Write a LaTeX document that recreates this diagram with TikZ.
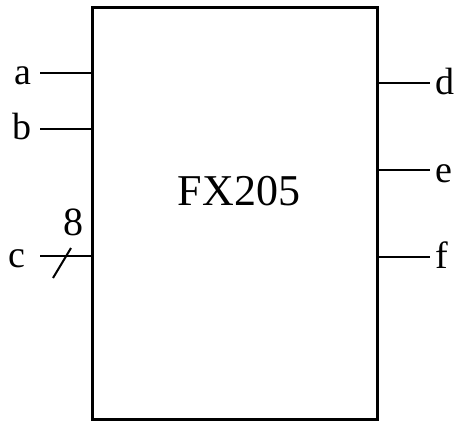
\documentclass[tikz,border=0pt]{standalone}
\usepackage{fontspec}
\setmainfont{Liberation Serif}
\usetikzlibrary{positioning,calc}

\begin{document}
\begin{tikzpicture}[x=0.5pt,y=-0.5pt,
        chip/.style={draw,line width=1.5pt,inner sep=0pt,
                     minimum width=142.5pt,minimum height=205.5pt},
        pin/.style={line width=1pt},
        lbl/.style={font=\fontsize{19}{22}\selectfont,inner sep=0pt}]
  \useasboundingbox (0,0) rectangle (458,422);
  % the block
  \node[chip] (fx) at (234.5,213.5) {};
  \node[font=\fontsize{22}{26}\selectfont,inner sep=0pt,anchor=base]
    (name) at (239,205) {FX205};
  % inputs
  \coordinate (a-pin) at (40,73);
  \coordinate (b-pin) at (40,129);
  \coordinate (c-pin) at (40,256);
  \draw[pin] (a-pin) -- (a-pin -| fx.west);
  \draw[pin] (b-pin) -- (b-pin -| fx.west);
  \draw[pin] (c-pin) -- (c-pin -| fx.west);
  \node[lbl,anchor=base east] (a) at ($(a-pin)+(-8,12)$) {a};
  \node[lbl,anchor=base east] (b) at ($(b-pin)+(-8,11)$) {b};
  \node[lbl,anchor=base east] (c) at ($(c-pin)+(-14,11)$) {c};
  % bus width
  \coordinate (bus-lo) at (53,278);
  \coordinate (bus-hi) at (71,248);
  \draw[pin] (bus-lo) -- (bus-hi);
  \node[lbl,font=\fontsize{20}{22}\selectfont,anchor=base] (width) at (73,235) {8};
  % outputs
  \coordinate (d-pin) at (430,83);
  \coordinate (e-pin) at (430,170);
  \coordinate (f-pin) at (430,257);
  \draw[pin] (d-pin -| fx.east) -- (d-pin);
  \draw[pin] (e-pin -| fx.east) -- (e-pin);
  \draw[pin] (f-pin -| fx.east) -- (f-pin);
  \node[lbl,anchor=base west] (d) at ($(d-pin)+(5,12)$) {d};
  \node[lbl,anchor=base west] (e) at ($(e-pin)+(5,12)$) {e};
  \node[lbl,anchor=base west] (f) at ($(f-pin)+(5,11)$) {f};
\end{tikzpicture}
\end{document}
